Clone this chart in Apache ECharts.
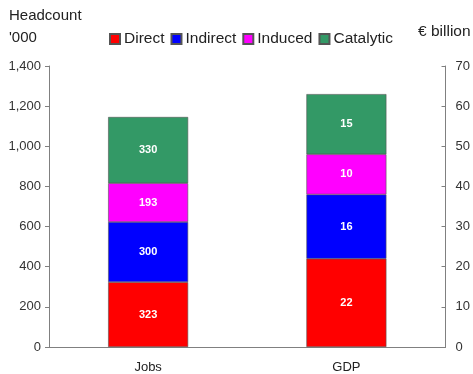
<!DOCTYPE html>
<html>
<head>
<meta charset="utf-8">
<script src="https://cdn.jsdelivr.net/npm/echarts@6/dist/echarts.min.js"></script>
<style>
  html, body { margin: 0; padding: 0; background: #fff; }
  #chart { width: 473px; height: 374px; }
</style>
</head>
<body>
<div id="chart"></div>
<script>
const categories = ['Jobs', 'GDP'];
const components = ['Direct', 'Indirect', 'Induced', 'Catalytic'];
const colors = ['#ff0000', '#0000ff', '#ff00ff', '#339966'];
// headcount '000 (left axis)
const jobsValues = [323, 300, 193, 330];
// € billion (right axis)
const gdpValues = [22, 16, 10, 15];

const font = 'Arial, "Liberation Sans", sans-serif';

function barSeries(name, color, value, axis) {
  return {
    name,
    type: 'bar',
    stack: axis === 0 ? 'jobs' : 'gdp',
    yAxisIndex: axis,
    barWidth: 80,
    barGap: '-100%',
    data: axis === 0 ? [value, '-'] : ['-', value],
    itemStyle: { color, borderColor: '#555', borderWidth: 0.6 },
    label: {
      show: true,
      position: 'inside',
      color: '#fff',
      fontWeight: 'bold',
      fontSize: 11,
      fontFamily: font,
    },
  };
}

const series = [];
components.forEach((name, i) => {
  series.push(barSeries(name, colors[i], jobsValues[i], 0));
  series.push(barSeries(name, colors[i], gdpValues[i], 1));
});

const chart = echarts.init(document.getElementById('chart'));
chart.setOption({
  animation: false,
  textStyle: { fontFamily: font },
  title: [
    { text: "Headcount\n'000", left: 4, top: 0, textStyle: { fontSize: 15, fontWeight: 'normal', color: '#222', lineHeight: 22, fontFamily: font } },
    { text: '€ billion', left: 413, top: 19, textStyle: { fontSize: 15.5, fontWeight: 'normal', color: '#222', fontFamily: font } },
  ],
  legend: {
    data: components,
    left: 104,
    top: 26,
    itemWidth: 10,
    itemHeight: 10,
    itemGap: 6,
    icon: 'rect',
    textStyle: { fontSize: 15.5, color: '#222', padding: [0, 0, 0, -1], fontFamily: font },
  },
  grid: { left: 49, right: 26, top: 66, bottom: 26 },
  xAxis: {
    type: 'category',
    data: categories,
    axisLine: { lineStyle: { color: '#808080' } },
    axisTick: { lineStyle: { color: '#808080' }, length: 4 },
    axisLabel: { color: '#222', fontSize: 13, margin: 14, fontFamily: font },
  },
  yAxis: [
    {
      type: 'value',
      min: 0,
      max: 1400,
      interval: 200,
      axisLine: { show: true, lineStyle: { color: '#808080' } },
      axisTick: { show: true, length: 4, lineStyle: { color: '#808080' } },
      splitLine: { show: false },
      axisLabel: {
        color: '#333',
        fontSize: 13,
        margin: 8,
        fontFamily: font,
        formatter: (v) => v.toLocaleString('en-US'),
      },
    },
    {
      type: 'value',
      position: 'right',
      min: 0,
      max: 70,
      interval: 10,
      axisLine: { show: true, lineStyle: { color: '#808080' } },
      axisTick: { show: true, inside: true, length: 4, lineStyle: { color: '#808080' } },
      splitLine: { show: false },
      axisLabel: { color: '#333', fontSize: 13, margin: 10, fontFamily: font },
    },
  ],
  series,
});
</script>
</body>
</html>
